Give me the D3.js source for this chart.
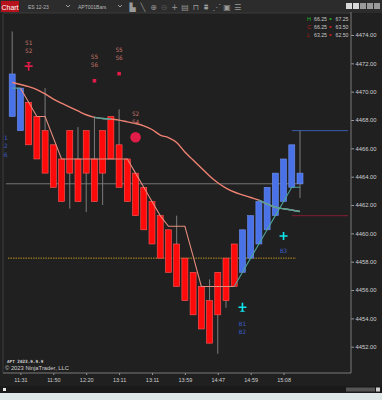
<!DOCTYPE html>
<html><head><meta charset="utf-8">
<script src="https://cdn.jsdelivr.net/npm/d3@7/dist/d3.min.js"></script>
<style>
html,body{margin:0;padding:0;background:#202020;overflow:hidden}
svg{display:block}
</style></head><body>
<script>
// ---------- DATA ----------
const bodyTop = [4471.25,4470.25,4469.25,4468.25,4467.25,4466.25,4465.25,4467.25,4465.25,4467.25,
  4465.25,4467.25,4468.25,4466.25,4465.25,4464.25,4463.25,4462.25,4461.25,4460.25,
  4459.25,4458.25,4457.25,4456.25,4455.25,4457.25,4458.25,4459.25,4460.25,4461.25,
  4462.25,4463.25,4464.25,4465.25,4466.25,4464.25];
const bodyBottom = [4468.25,4467.25,4466.25,4465.25,4464.25,4463.25,4462.25,4464.25,4462.25,4464.25,
  4462.25,4464.25,4465.25,4463.25,4462.25,4461.25,4460.25,4459.25,4458.25,4457.25,
  4456.25,4455.25,4454.25,4453.25,4452.25,4454.25,4455.25,4456.25,4457.25,4458.25,
  4459.25,4460.25,4461.25,4462.25,4463.25,4463.5];
const barHigh = [4474.25,4470.25,4469.25,4468.25,4470.25,4466.25,4465.25,4467.25,4467.5,4467.25,
  4468.25,4467.25,4468.25,4468.75,4465.25,4464.25,4463.25,4462.25,4461.25,4460.25,
  4461.25,4458.25,4457.25,4456.25,4456.75,4457.25,4458.25,4459.25,4460.25,4461.25,
  4462.25,4463.25,4464.25,4465.25,4466.25,4467.25];
const barLow = [4468.25,4467.25,4466.25,4465.25,4464.25,4463.25,4462.25,4461.75,4462.25,4461.5,
  4462.25,4462.0,4465.25,4463.25,4462.25,4461.25,4460.25,4459.25,4458.25,4457.25,
  4456.25,4455.25,4454.25,4453.25,4452.25,4451.5,4454.75,4456.25,4457.25,4458.25,
  4459.25,4460.25,4461.25,4462.25,4463.25,4462.5];
const barDir = [1,1,-1,-1,-1,-1,-1,-1,-1,-1,-1,-1,-1,-1,-1,-1,-1,-1,-1,-1,
  -1,-1,-1,-1,-1,-1,-1,-1,1,1,1,1,1,1,1,1];
const emaVals = [4470.65,4470.51,4470.36,4470.15,4469.84,4469.48,4469.19,4468.91,4468.64,4468.37,
  4468.19,4468.11,4468.07,4467.99,4467.87,4467.75,4467.59,4467.33,4466.94,4466.76,
  4466.41,4465.74,4465.18,4464.61,4464.05,4463.57,4463.2,4462.92,4462.72,4462.53,
  4462.34,4462.07,4461.84,4461.74,4461.65,4461.54];
const stopVals = [4470.25,4470.25,4469.25,4468.25,4468.25,4466.75,4465.25,4465.25,4465.25,4465.25,
  4465.25,4465.25,4465.25,4465.25,4465.25,4464.25,4463.25,4462.25,4461.25,4460.5,
  4460.5,4460.5,4458.4,4456.25,4456.25,4456.25,4456.25,4456.25,4457.25,4458.25,
  4459.25,4460.25,4461.25,4462.25,4463.25,4463.25];
const timeLabels = ["11:31","11:50","12:20","13:11","13:11","13:59","14:47","14:59","15:08"];
const timeBars = [1,5,9,13,17,21,25,29,33];
const priceTicks = [4452,4454,4456,4458,4460,4462,4464,4466,4468,4470,4472,4474];
const closePrice = 4463.5, highLevel = 4467.25, lowLevel = 4461.25, dottedLevel = 4458.25;
const signals = [
  {bar:2, price:4471.8, type:"sellT", labels:["S1","S2"]},
  {bar:10, price:4470.77, type:"square", labels:["S5","S6"]},
  {bar:13, price:4471.27, type:"square", labels:["S5","S6"]},
  {bar:15, price:4466.78, type:"circle", labels:["S2","S4"]},
  {bar:28, price:4454.78, type:"buyT", labels:["B1","B2"]},
  {bar:33, price:4459.81, type:"plus", labels:["B3"]},
  {bar:-1, price:4467.9, type:"none", labels:["B1","B2","B6"]}
];
const legendRows = [
  {k:"H", a:"66.25", b:"67.25", kc:"#22b822", sc:"#22a022"},
  {k:"C", a:"66.25", b:"63.50", kc:"#b01818", sc:"#c01818"},
  {k:"L", a:"63.25", b:"62.50", kc:"#b01818", sc:"#c01818"}
];

// ---------- LAYOUT ----------
const W=382,H=400;
const P={l:3,r:351,t:14,b:373};
const svg=d3.select("body").append("svg").attr("width",W).attr("height",H);
const x=d3.scaleLinear().domain([0,35]).range([12.2,300]);
const y=d3.scaleLinear().domain([4452,4474]).range([346.7,35]);
const SALMON="#ee8272", TEAL="#4fa49a", CRIM="#e01c48", CYAN="#10e6ee";

svg.append("rect").attr("width",W).attr("height",H).attr("fill","#202020");
// toolbar
svg.append("rect").attr("width",W).attr("height",13).attr("fill","#2c2c2c");
svg.append("rect").attr("x",1).attr("y",1).attr("width",18).attr("height",11).attr("fill","#b5121b");
svg.append("text").attr("x",10).attr("y",9.5).attr("text-anchor","middle").attr("fill","#fff")
  .attr("font-family","Liberation Sans").attr("font-size",7).text("Chart");
[[26,71,"ES 12-23"],[76,123,"APT001Bars"]].forEach(d=>{
  svg.append("text").attr("x",d[0]+2).attr("y",8.5).attr("fill","#b8b8b8")
    .attr("font-family","Liberation Sans").attr("font-size",5).text(d[2]);
  svg.append("path").attr("d",`M${d[1]-5},5 L${d[1]-3},7 L${d[1]-1},5`).attr("fill","none")
    .attr("stroke","#aaa").attr("stroke-width",0.9);
});
const icons=["▙","╲","⊕","⊖","+","▤","⊓","⩩","⋰","▣","☰"];
icons.forEach((c,i)=>{
  svg.append("text").attr("x",132.5+i*10.5).attr("y",9.8).attr("text-anchor","middle")
    .attr("fill",i===3?"#555":"#9a9a9a").attr("font-family","DejaVu Sans").attr("font-size",8).text(c);
});
[[346,"#d8d8d8"],[353,"#d8d8d8"],[360,"#9a9a9a"],[367,"#9a9a9a"],[374,"#9a9a9a"]].forEach(d=>{
  svg.append("rect").attr("x",d[0]).attr("y",3).attr("width",6).attr("height",6).attr("fill",d[1]);
});

// panel frame
svg.append("line").attr("x1",P.l).attr("x2",P.l).attr("y1",P.t).attr("y2",P.b).attr("stroke","#3c3c3c");
svg.append("line").attr("x1",P.l).attr("x2",P.r).attr("y1",P.t-1).attr("y2",P.t-1).attr("stroke","#3a3a3a");

const defs=svg.append("defs");
defs.append("clipPath").attr("id","clip").append("rect")
  .attr("x",P.l+0.5).attr("y",P.t).attr("width",P.r-P.l-0.5).attr("height",P.b-P.t);
const g=svg.append("g").attr("clip-path","url(#clip)");

// horizontal level lines
g.append("line").attr("x1",6).attr("x2",303).attr("y1",y(closePrice)).attr("y2",y(closePrice))
  .attr("stroke","#8a8a8a").attr("stroke-width",0.8);
g.append("line").attr("x1",8).attr("x2",296).attr("y1",y(dottedLevel)).attr("y2",y(dottedLevel))
  .attr("stroke","#c9a020").attr("stroke-width",0.9).attr("stroke-dasharray","1.5,1");
g.append("line").attr("x1",292).attr("x2",348).attr("y1",y(highLevel)).attr("y2",y(highLevel))
  .attr("stroke","#3a5cab").attr("stroke-width",1);
g.append("line").attr("x1",292).attr("x2",348).attr("y1",y(lowLevel)).attr("y2",y(lowLevel))
  .attr("stroke","#6e1e2c").attr("stroke-width",1.2);

// wicks
const idx=d3.range(bodyTop.length);
g.selectAll("line.wick").data(idx).join("line").attr("class","wick")
  .attr("x1",i=>x(i)).attr("x2",i=>x(i)).attr("y1",i=>y(barHigh[i])).attr("y2",i=>y(barLow[i]))
  .attr("stroke","#7c7c7c").attr("stroke-width",1);
// bodies
g.selectAll("rect.bar").data(idx).join("rect").attr("class","bar")
  .attr("x",i=>x(i)-3).attr("width",6)
  .attr("y",i=>y(bodyTop[i])).attr("height",i=>y(bodyBottom[i])-y(bodyTop[i]))
  .attr("fill",i=>barDir[i]>0?"#4a72e8":"#ff0a0a")
  .attr("stroke",i=>barDir[i]>0?"#6d8ff0":"#ff5a5a").attr("stroke-width",0.6);

// EMA
const emaLine=d3.line().x(i=>x(i)).y(i=>y(emaVals[i])).curve(d3.curveMonotoneX);
g.append("path").attr("d",emaLine(idx)).attr("fill","none").attr("stroke",SALMON).attr("stroke-width",1.4);
g.append("path").attr("d",emaLine(d3.range(10,13))).attr("fill","none").attr("stroke",TEAL).attr("stroke-width",1.4);
g.append("path").attr("d",emaLine(d3.range(30,36))).attr("fill","none").attr("stroke",TEAL).attr("stroke-width",1.4);

// trailing stop
const stopLine=d3.line().x(i=>x(i)).y(i=>y(stopVals[i]));
g.append("path").attr("d",stopLine(d3.range(1,28))).attr("fill","none").attr("stroke","#e48a7c").attr("stroke-width",1.1);
g.append("path").attr("d",stopLine([0,1])).attr("fill","none").attr("stroke",TEAL).attr("stroke-width",1.1);
g.append("path").attr("d",stopLine(d3.range(27,36))).attr("fill","none").attr("stroke",TEAL).attr("stroke-width",1.1);

// signals
signals.forEach(s=>{
  const cx=x(s.bar), cy=y(s.price);
  const sell=s.labels[0][0]==="S";
  if(s.type==="sellT"){
    g.append("path").attr("d",`M${cx-3},${cy-4.2} L${cx+3},${cy-4.2} L${cx},${cy-2.5} Z`).attr("fill",CRIM);
    g.append("path").attr("d",`M${cx-4},${cy} L${cx+4},${cy} M${cx},${cy-4} L${cx},${cy+4.5}`)
      .attr("stroke",CRIM).attr("stroke-width",1.6);
  } else if(s.type==="square"){
    g.append("rect").attr("x",cx-1.8).attr("y",cy-1.8).attr("width",3.6).attr("height",3.6).attr("fill",CRIM);
  } else if(s.type==="circle"){
    g.append("circle").attr("cx",cx).attr("cy",cy).attr("r",5.3).attr("fill",CRIM);
  } else if(s.type==="buyT"){
    g.append("path").attr("d",`M${cx-4},${cy} L${cx+4},${cy} M${cx},${cy-4.5} L${cx},${cy+4}`)
      .attr("stroke",CYAN).attr("stroke-width",1.6);
    g.append("path").attr("d",`M${cx-3},${cy+4.4} L${cx+3},${cy+4.4} L${cx},${cy+2.6} Z`).attr("fill",CYAN);
  } else if(s.type==="plus"){
    g.append("path").attr("d",`M${cx-4},${cy} L${cx+4},${cy} M${cx},${cy-4} L${cx},${cy+4}`)
      .attr("stroke",CYAN).attr("stroke-width",1.6);
  }
  s.labels.forEach((t,k)=>{
    const n=s.labels.length;
    const ty= sell ? cy-22+(k-(n-2))*8 + (k-(n-1))*0 : cy+(s.type==="plus"?16.5:18.5)+k*8.3;
    g.append("text").attr("x",cx).attr("y",sell?cy-21.5+k*8:ty).attr("text-anchor","middle")
      .attr("fill",sell?"#c57468":"#3a5cc4").attr("font-family","DejaVu Sans Mono").attr("font-size",6).text(t);
  });
});

// axes
const yAxis=d3.axisRight(y).tickValues(priceTicks).tickFormat(d3.format(".2f")).tickSize(3).tickPadding(1.5);
const ya=svg.append("g").attr("transform",`translate(${P.r},0)`).call(yAxis);
ya.select(".domain").remove();
ya.selectAll("line").attr("stroke","#9a9a9a");
ya.selectAll("text").attr("fill","#cfcfcf").attr("font-family","Liberation Sans").attr("font-size",5.8);
svg.append("line").attr("x1",P.r).attr("x2",P.r).attr("y1",12).attr("y2",P.b).attr("stroke","#7a7a7a");

const xAxis=d3.axisBottom(x).tickValues(timeBars).tickFormat((d,i)=>timeLabels[i]).tickSize(2).tickPadding(3);
const xa=svg.append("g").attr("transform",`translate(0,${P.b})`).call(xAxis);
xa.select(".domain").remove();
xa.selectAll("line").attr("stroke","#9a9a9a");
xa.selectAll("text").attr("fill","#cfcfcf").attr("font-family","Liberation Sans").attr("font-size",5.5);
svg.append("line").attr("x1",P.l).attr("x2",P.r).attr("y1",P.b).attr("y2",P.b).attr("stroke","#7a7a7a");

// legend
legendRows.forEach((r,i)=>{
  const ly=21+i*8;
  svg.append("text").attr("x",307).attr("y",ly).attr("fill",r.kc).attr("font-family","Liberation Sans").attr("font-size",5.5).text(r.k);
  svg.append("text").attr("x",314).attr("y",ly).attr("fill","#c8c8c8").attr("font-family","Liberation Sans").attr("font-size",5.2).text(r.a);
  svg.append("rect").attr("x",329.5).attr("y",ly-3).attr("width",2).attr("height",2).attr("fill",r.sc);
  svg.append("text").attr("x",335.5).attr("y",ly).attr("fill","#c8c8c8").attr("font-family","Liberation Sans").attr("font-size",5.2).text(r.b);
});

// watermark
svg.append("text").attr("x",7).attr("y",363).attr("fill","#d0d0d0").attr("font-family","DejaVu Sans Mono")
  .attr("font-weight","bold").attr("font-size",4.3).text("APT 2023.9.9.9");
svg.append("text").attr("x",5).attr("y",369.5).attr("fill","#cfcfcf").attr("font-family","Liberation Sans")
  .attr("font-size",5.8).text("© 2023 NinjaTrader, LLC");

// bottom scroll strip & window edge
svg.append("rect").attr("x",0).attr("y",386).attr("width",W).attr("height",7).attr("fill","#1a1a1a");
svg.append("rect").attr("x",3).attr("y",388).attr("width",3).attr("height",3).attr("fill","#e8e8e8");
svg.append("rect").attr("x",346).attr("y",387.5).attr("width",29).attr("height",4).attr("fill","#555");
svg.append("rect").attr("x",376).attr("y",387.5).attr("width",4).attr("height",4).attr("fill","#d0d0d0");
svg.append("rect").attr("x",0).attr("y",393).attr("width",W).attr("height",7).attr("fill","#dfe8e9");
</script>
</body></html>
